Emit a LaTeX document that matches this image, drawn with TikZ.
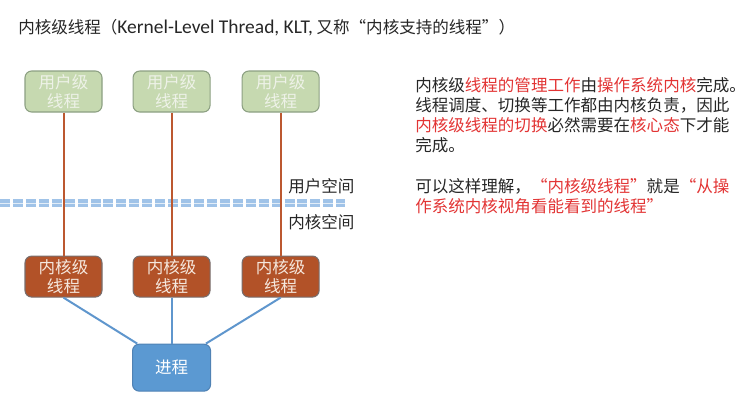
\documentclass[tikz,border=0pt]{standalone}
\usepackage{fontspec}
\setmainfont{Noto Sans CJK SC}
\newfontfamily\latinfont{Carlito}
\definecolor{userfill}{RGB}{198,217,176}
\definecolor{userborder}{RGB}{140,160,130}
\definecolor{usertext}{RGB}{238,242,232}
\definecolor{kernfill}{RGB}{178,82,40}
\definecolor{kernborder}{RGB}{120,110,110}
\definecolor{kerntext}{RGB}{245,232,222}
\definecolor{procfill}{RGB}{91,153,210}
\definecolor{procborder}{RGB}{80,130,180}
\definecolor{linkred}{RGB}{188,88,48}
\definecolor{linkblue}{RGB}{95,150,205}
\definecolor{dashblue}{RGB}{160,195,232}
\definecolor{hlred}{RGB}{226,52,52}
\definecolor{txtdark}{RGB}{38,38,38}
\usetikzlibrary{positioning}

\tikzset{
  box/.style={draw,line width=0.8pt,rounded corners=5pt,inner sep=1pt,align=center,
              font=\fontsize{12.4}{14.2}\selectfont},
  userbox/.style={box,fill=userfill,draw=userborder,text=usertext,
                  minimum width=57.75pt,minimum height=30.75pt},
  kernbox/.style={box,fill=kernfill,draw=kernborder,text=kerntext,
                  minimum width=57.75pt,minimum height=30.75pt},
  procbox/.style={box,fill=procfill,draw=procborder,text=white,
                  minimum width=58.5pt,minimum height=35.25pt},
  redlink/.style={draw=linkred,line width=1.5pt},
  bluelink/.style={draw=linkblue,line width=1.5pt},
  note/.style={anchor=north west,inner sep=0pt,align=left,text=txtdark,
               font=\fontsize{12.4}{15}\selectfont},
  spacelabel/.style={anchor=west,inner sep=0pt,text=txtdark,
                     font=\fontsize{12.4}{15}\selectfont}
}

\begin{document}
\begin{tikzpicture}[x=0.75pt,y=-0.75pt]
  \useasboundingbox (0,0) rectangle (755,419);

  % title
  \node[anchor=base west,inner sep=0pt,text=txtdark,font=\fontsize{12.4}{15}\selectfont]
    (title) at (18,33) {内核级线程（{\latinfont\fontsize{14.6}{15}\selectfont Kernel-Level Thread, KLT,} 又称“内核支持的线程”）};

  % user/kernel boundary
  \coordinate (bndl) at (0,203);
  \coordinate (bndr) at (345,203);
  \draw[draw=dashblue,line width=3pt,dash pattern=on 7.5pt off 2.2pt,
        double=white!70!dashblue,double distance=0.6pt] (bndl) -- (bndr);
  \node[spacelabel] (uspace) at (288,186) {用户空间};
  \node[spacelabel] (kspace) at (288,222) {内核空间};

  % threads
  \node[userbox] (usr1) at (63.5,91.5) {用户级\\线程};
  \node[userbox,right=22.5pt of usr1] (usr2) {用户级\\线程};
  \node[userbox,right=23.25pt of usr2] (usr3) {用户级\\线程};

  \node[kernbox,below=107.25pt of usr1] (krn1) {内核级\\线程};
  \node[kernbox,below=107.25pt of usr2] (krn2) {内核级\\线程};
  \node[kernbox,below=107.25pt of usr3] (krn3) {内核级\\线程};

  \node[procbox,below=34.5pt of krn2] (proc) {进程};

  \foreach \i in {1,2,3}
    \draw[redlink] (usr\i) -- (krn\i);
  \draw[bluelink] (krn1.south) -- (proc.145);
  \draw[bluelink] (krn2.south) -- (proc.north);
  \draw[bluelink] (krn3.south) -- (proc.35);

  % explanation
  \node[note] (para1) at (415,77)
    {内核级\textcolor{hlred}{线程的管理工作}由\textcolor{hlred}{操作系统内核}完成。\\
     线程调度、切换等工作都由内核负责，因此\\
     \textcolor{hlred}{内核级线程的切换}必然需要在\textcolor{hlred}{核心态}下才能\\
     完成。};
  \node[note] (para2) at (415,178)
    {可以这样理解，\textcolor{hlred}{“内核级线程”}就是\textcolor{hlred}{“从操}\\
     \textcolor{hlred}{作系统内核视角看能看到的线程”}};
\end{tikzpicture}
\end{document}
